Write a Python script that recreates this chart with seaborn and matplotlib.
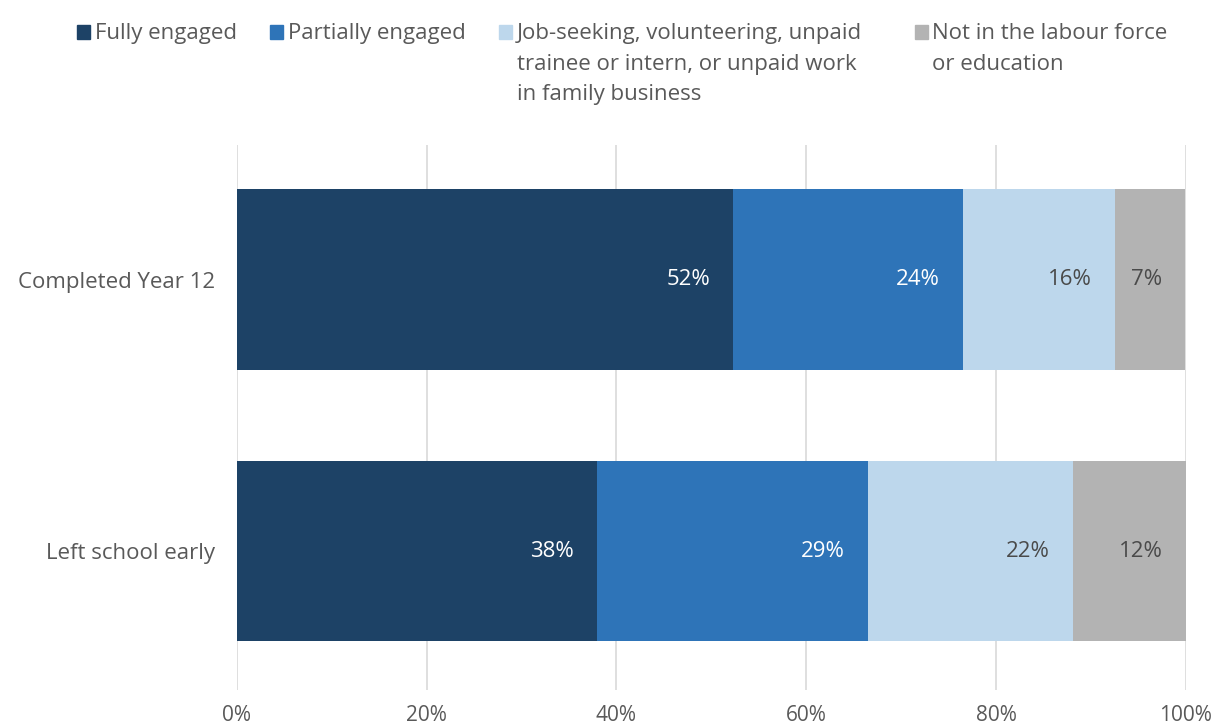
import matplotlib
matplotlib.use("Agg")
import matplotlib.pyplot as plt
from matplotlib.patches import Rectangle
import seaborn as sns
import pandas as pd
import numpy as np

# Share of each group by engagement status (%)
groups = ["Completed Year 12", "Left school early"]
fully_engaged = [52.3, 37.9]
partially_engaged = [24.2, 28.6]
job_seeking = [16.0, 21.6]
not_in_labour_force = [7.4, 11.9]

series_names = [
    "Fully engaged",
    "Partially engaged",
    "Job-seeking, volunteering, unpaid\ntrainee or intern, or unpaid work\nin family business",
    "Not in the labour force\nor education",
]
series_values = [fully_engaged, partially_engaged, job_seeking, not_in_labour_force]
series_colors = ["#1d4266", "#2e74b8", "#bdd7ec", "#b3b3b3"]
label_colors = ["white", "white", "#4a4a4a", "#4a4a4a"]
x_ticks = [0, 20, 40, 60, 80, 100]
x_tick_labels = ["0%", "20%", "40%", "60%", "80%", "100%"]

sns.set_theme(style="white")
plt.rcParams["font.family"] = ["Open Sans", "DejaVu Sans"]
text_gray = "#595959"

fig = plt.figure(figsize=(12.15, 7.28), dpi=100)
ax = fig.add_axes([0.195, 0.052, 0.781, 0.749])

left = np.zeros(len(groups))
for name, vals, color, lc in zip(series_names, series_values, series_colors, label_colors):
    df = pd.DataFrame({"group": groups, "value": vals})
    sns.barplot(data=df, x="value", y="group", orient="h", color=color,
                left=left, width=0.667, ax=ax, zorder=3, saturation=1,
                linewidth=0)
    ends = left + np.array(vals)
    for i, (v, e) in enumerate(zip(vals, ends)):
        ax.text(e - 2.4, i, f"{round(v):d}%", ha="right", va="center",
                color=lc, fontsize=16, zorder=4)
    left = ends

ax.set_xlim(0, 100)
ax.set_ylim(1.513, -0.498)
ax.set_xticks(x_ticks)
ax.set_xticklabels(x_tick_labels, color=text_gray, fontsize=15)
ax.tick_params(axis="x", length=0, pad=11)
ax.tick_params(axis="y", length=0, pad=16, labelsize=16, labelcolor=text_gray)
ax.set_xlabel("")
ax.set_ylabel("")
ax.grid(axis="x", color="#d9d9d9", linewidth=1.2, zorder=0)
ax.set_axisbelow(True)
for s in ax.spines.values():
    s.set_visible(False)

# Legend drawn in figure pixels along the top
W, H = 1215, 728
legend_x = [(77, 95), (270, 288), (499, 517), (915, 932)]
for (sx, tx), name, color in zip(legend_x, series_names, series_colors):
    fig.patches.append(Rectangle((sx / W, 1 - 39 / H), 13 / W, 14 / H,
                                 transform=fig.transFigure, color=color))
    fig.text(tx / W, 1 - 23 / H, name, ha="left", va="top", color=text_gray,
             fontsize=16, linespacing=1.6,
             transform=fig.transFigure)

fig.savefig("out.png", dpi=100, facecolor="white")
